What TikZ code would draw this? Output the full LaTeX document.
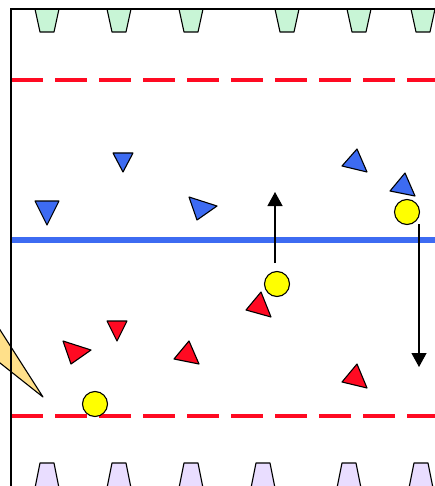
\documentclass[tikz,border=0pt]{standalone}
\usetikzlibrary{arrows.meta}

\definecolor{fieldblue}{HTML}{3D6BF2}
\definecolor{fieldred}{HTML}{FF0A22}
\definecolor{conegreen}{HTML}{C8F5D6}
\definecolor{conepurple}{HTML}{E9DDFF}
\definecolor{ballyellow}{HTML}{FFFF00}
\definecolor{wedgeyellow}{HTML}{FFE08A}

\tikzset{
  border/.style={black, line width=1.3pt},
  zoneline/.style={fieldred, line width=4pt, dash pattern=on 32pt off 12pt},
  halfway/.style={fieldblue, line width=5.5pt},
  cone/.style={draw=black, line width=1.1pt, line join=round},
  blueplayer/.style={fill=fieldblue, draw=black, line width=1.1pt, line join=round},
  redplayer/.style={fill=fieldred, draw=black, line width=1.1pt, line join=round},
  ball/.style={circle, fill=ballyellow, draw=black, line width=1.1pt, minimum size=25pt, inner sep=0pt},
  run/.style={-{Triangle[width=15pt, length=14pt]}, black, line width=1.3pt}
}

\begin{document}
\begin{tikzpicture}[x=1pt, y=-1pt]
  \useasboundingbox (0, 0) rectangle (435, 486);
  \clip (0, 0) rectangle (435, 486);

  % zone lines
  \draw[zoneline] (11, 80) -- (440, 80);
  \draw[zoneline] (11, 416) -- (440, 416);
  \draw[halfway] (11, 240) -- (440, 240);

  % cones along the ends
  \foreach \x in {47, 119, 191, 287, 359, 423}
    \draw[cone, fill=conegreen] (\x-12, 9) -- (\x+12, 9) -- (\x+7, 32) -- (\x-7, 32) -- cycle;
  \foreach \x in {47, 119, 191, 263, 349, 421}
    \draw[cone, fill=conepurple] (\x-7, 463) -- (\x+7, 463) -- (\x+12, 488) -- (\x-12, 488) -- cycle;

  % wedge from the left side
  \draw[cone, fill=wedgeyellow] (-5, 322) -- (43, 397) -- (-5, 359) -- cycle;

  % field border
  \draw[border] (435, 9) -- (11, 9) -- (11, 490);

  % blue team
  \draw[blueplayer] (35, 201) -- (59, 201) -- (47, 225) -- cycle;
  \draw[blueplayer] (113, 153) -- (133, 153) -- (123, 172) -- cycle;
  \draw[blueplayer] (189, 197) -- (217, 206) -- (197, 220) -- cycle;
  \draw[blueplayer] (342, 166) -- (357, 149) -- (367, 172) -- cycle;
  \draw[blueplayer] (390, 191) -- (405, 173) -- (415, 196) -- cycle;

  % red team
  \draw[redplayer] (63, 341) -- (91, 350) -- (71, 364) -- cycle;
  \draw[redplayer] (107, 321) -- (127, 321) -- (117, 341) -- cycle;
  \draw[redplayer] (174, 359) -- (189, 341) -- (199, 364) -- cycle;
  \draw[redplayer] (246, 310) -- (261, 292) -- (271, 317) -- cycle;
  \draw[redplayer] (342, 382) -- (357, 364) -- (367, 388) -- cycle;

  % balls
  \node[ball] (ballA) at (407, 212) {};
  \node[ball] (ballB) at (277, 284) {};
  \node[ball] (ballC) at (95, 404) {};

  % runs
  \coordinate (upStart) at (275, 263);
  \coordinate (upEnd) at (275, 192);
  \coordinate (downStart) at (419, 224);
  \coordinate (downEnd) at (419, 367);
  \draw[run] (upStart) -- (upEnd);
  \draw[run] (downStart) -- (downEnd);
\end{tikzpicture}
\end{document}
